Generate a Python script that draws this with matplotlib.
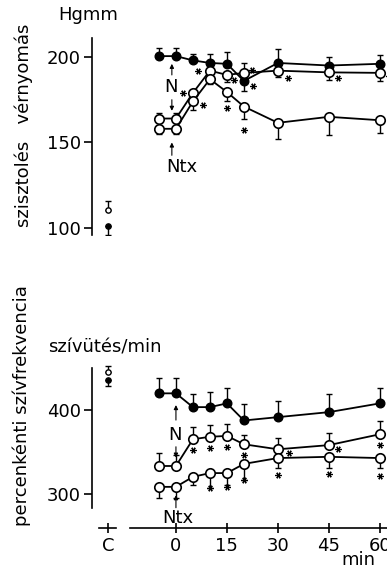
import matplotlib
matplotlib.use('Agg')
import matplotlib.pyplot as plt
from matplotlib.transforms import offset_copy

plt.rcParams['font.family'] = ['DejaVu Sans']
plt.rcParams['font.size'] = 13

# time points (min) and x ticks
times = [-5, 0, 5, 10, 15, 20, 30, 45, 60]
ctrl_x = -20
xtick_pos = [-20, 0, 15, 30, 45, 60]
xtick_lab = ['C', '0', '15', '30', '45', '60']

# systolic blood pressure (Hgmm)
bp_filled = [200.5, 200.5, 198, 196.5, 196, 186, 196.5, 195, 196]
bp_filled_up = [4.5, 4.5, 4, 5, 7, 0, 8, 5, 5]
bp_filled_dn = [0, 0, 0, 0, 0, 6, 0, 0, 0]
bp_hi = [164, 164, 179, 192, 189.5, 190.7, 192, 191, 190.7]
bp_hi_up = [3, 3, 0, 0, 0, 6, 0, 0, 0]
bp_hi_dn = [0, 0, 0, 0, 4, 0, 4, 4.5, 5]
bp_lo = [158, 158, 174, 187, 179.5, 171, 161.5, 165, 163]
bp_lo_dn = [3, 3, 5, 3, 5, 7, 9.5, 10.5, 7.5]
bp_ctrl_open, bp_ctrl_open_err = 110.5, 5
bp_ctrl_filled, bp_ctrl_filled_err = 101, 5

# heart rate (beats/min)
hr_filled = [420, 420, 403.5, 403.5, 408, 387.5, 391.5, 397.5, 408]
hr_filled_up = [18, 18, 16, 18, 18, 20, 19, 22, 18]
hr_hi = [333, 333, 365, 368, 369, 359, 353, 358, 371]
hr_hi_up = [15, 13, 15, 14, 14, 11, 14, 14, 16]
hr_lo = [308, 308, 320, 324.5, 324.5, 335.5, 342.5, 344, 342.5]
hr_lo_dn = [13, 13, 10, 18, 14, 19, 12, 13.5, 12]
hr_ctrl_open, hr_ctrl_open_err = 446, 7
hr_ctrl_filled, hr_ctrl_filled_err = 436, 7

# significant points: (index, dx px, dy px)
bp_hi_sig = [(2, -10, 0), (3, -12, 0), (4, 7, -5), (5, 8, 3), (6, 10, -7), (7, 9, -6), (8, 9, -3)]
bp_lo_sig = [(2, 10, -4), (4, 0, -16), (5, 0, -23)]
bp_filled_sig = [(5, 9, -5)]
hr_hi_sig = [(2, 0, -11), (3, 0, -11), (4, 0, -11), (5, 0, -11), (6, 11, -4), (7, 9, -4), (8, 0, -11)]
hr_lo_sig = [(3, 0, -15), (4, 0, -14), (5, 0, -16), (6, 0, -17), (7, 0, -17), (8, 0, -18)]

fig = plt.figure(figsize=(3.87, 5.73), dpi=100)
ax1 = fig.add_axes([0.2377, 0.5899, 0.7623, 0.3438])
ax2 = fig.add_axes([0.2377, 0.0785, 0.7623, 0.3019])

xlim = (-24.7, 62.1)


def series(ax, y, dn, up, filled):
    ax.errorbar(times, y, yerr=[dn, up], fmt='none', ecolor='k',
                elinewidth=1.0, capsize=2.5, capthick=1.0, zorder=2)
    if filled:
        ax.plot(times, y, '-o', color='k', lw=1.3, ms=6.2, zorder=3)
    else:
        ax.plot(times, y, '-o', color='k', lw=1.3, ms=6.8, mfc='white',
                mec='k', mew=1.2, zorder=4)


def ctrl(ax, y, err, filled, up):
    yerr = [[0], [err]] if up else [[err], [0]]
    ax.errorbar([ctrl_x], [y], yerr=yerr, fmt='none', ecolor='k',
                elinewidth=1.0, capsize=2.5, capthick=1.0)
    ax.plot([ctrl_x], [y], 'o', ms=3.8, color='k',
            mfc='k' if filled else 'white', mew=1.0, zorder=3)


def stars(ax, y, sig):
    for i, dx, dy in sig:
        tr = offset_copy(ax.transData, fig=fig, x=dx, y=dy, units='dots')
        ax.plot([times[i]], [y[i]], marker=(6, 2, 90), ms=4.5, mew=0.9,
                color='k', transform=tr, clip_on=False, zorder=5)


def arrow(ax, x, y0, y1):
    ax.annotate('', xy=(x, y1), xytext=(x, y0),
                arrowprops=dict(arrowstyle='-|>', lw=0.8, color='k',
                                mutation_scale=6, shrinkA=0, shrinkB=0))


# top panel
series(ax1, bp_filled, bp_filled_dn, bp_filled_up, True)
series(ax1, bp_hi, bp_hi_dn, bp_hi_up, False)
series(ax1, bp_lo, bp_lo_dn, [0] * 9, False)
ctrl(ax1, bp_ctrl_open, bp_ctrl_open_err, False, True)
ctrl(ax1, bp_ctrl_filled, bp_ctrl_filled_err, True, False)
stars(ax1, bp_hi, bp_hi_sig)
stars(ax1, bp_lo, bp_lo_sig)
stars(ax1, bp_filled, bp_filled_sig)
ax1.text(-1.5, 182.5, 'N', ha='center', va='center', fontsize=13)
arrow(ax1, -1.2, 189.5, 196)
arrow(ax1, -1.2, 175, 168.5)
ax1.text(1.8, 135.5, 'Ntx', ha='center', va='center', fontsize=13)
arrow(ax1, -1.2, 142.5, 150)

ax1.set_xlim(*xlim)
ax1.set_ylim(95.9, 211.1)
ax1.set_yticks([100, 150, 200])
for s in ['top', 'right', 'bottom']:
    ax1.spines[s].set_visible(False)
ax1.spines['left'].set_linewidth(1.2)
ax1.set_xticks([])
ax1.tick_params(axis='y', direction='out', length=6, width=1.2, pad=2,
                labelsize=13)

# bottom panel
series(ax2, hr_filled, [0] * 9, hr_filled_up, True)
series(ax2, hr_hi, [0] * 9, hr_hi_up, False)
series(ax2, hr_lo, hr_lo_dn, [0] * 9, False)
ctrl(ax2, hr_ctrl_open, hr_ctrl_open_err, False, True)
ctrl(ax2, hr_ctrl_filled, hr_ctrl_filled_err, True, False)
stars(ax2, hr_hi, hr_hi_sig)
stars(ax2, hr_lo, hr_lo_sig)
ax2.text(-0.3, 370, 'N', ha='center', va='center', fontsize=13)
arrow(ax2, 0, 388, 406)
arrow(ax2, 0, 356, 343)
ax2.text(0.6, 270.5, 'Ntx', ha='center', va='center', fontsize=13)
arrow(ax2, 0, 283, 298)

ax2.set_xlim(*xlim)
ax2.set_ylim(258.7, 465.9)
ax2.set_yticks([300, 400])
ax2.set_xticks(xtick_pos)
ax2.set_xticklabels(xtick_lab)
for s in ['top', 'right']:
    ax2.spines[s].set_visible(False)
ax2.spines['left'].set_bounds(282.6, 450)
ax2.spines['bottom'].set_bounds(-13.5, xlim[1])
ax2.spines['left'].set_linewidth(1.2)
ax2.spines['bottom'].set_linewidth(1.2)
ax2.plot([-22.5, -17.5], [0, 0], color='k', lw=1.2,
         transform=ax2.get_xaxis_transform(), clip_on=False)
ax2.tick_params(axis='y', direction='out', length=6, width=1.2, pad=2,
                labelsize=13)
ax2.tick_params(axis='x', direction='inout', length=7, width=1.2, pad=3,
                labelsize=13)

# labels
fig.text(88 / 387, 1 - 15 / 573, 'Hgmm', ha='center', va='center', fontsize=13)
fig.text(24 / 387, 1 - 125 / 573, 'szisztolés   vérnyomás', rotation=90,
         ha='center', va='center', fontsize=13)
fig.text(105 / 387, 1 - 348 / 573, 'szívütés/min', ha='center', va='center',
         fontsize=13)
fig.text(22 / 387, 1 - 406 / 573, 'percenkénti szívfrekvencia', rotation=90,
         ha='center', va='center', fontsize=13)
fig.text(358 / 387, 1 - 560 / 573, 'min', ha='center', va='center', fontsize=13)

fig.savefig('out.png', dpi=100, facecolor='white')
